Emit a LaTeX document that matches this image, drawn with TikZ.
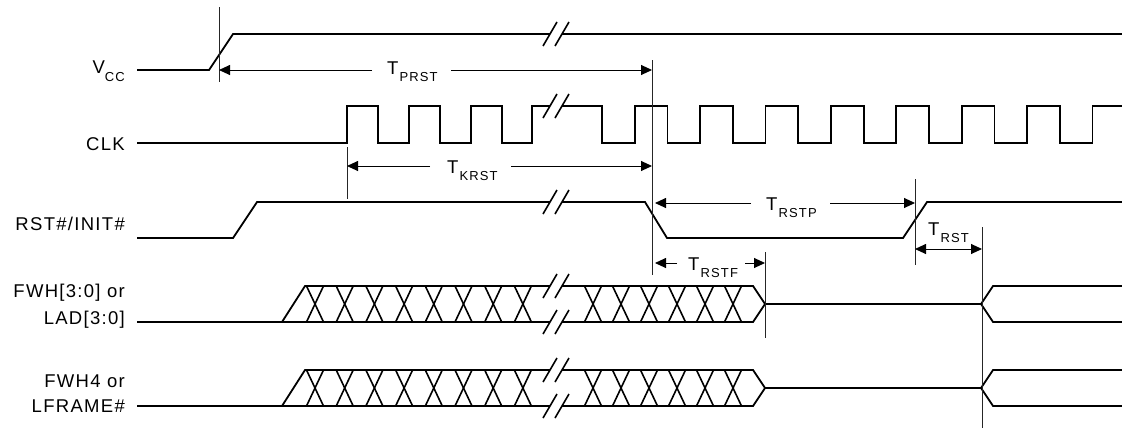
\documentclass[tikz,border=0pt]{standalone}
\usepackage{fontspec}
\setmainfont{Liberation Sans}
\newfontfamily\lblfam[LetterSpace=7]{Liberation Sans}
\newfontfamily\subfam[LetterSpace=9]{Liberation Sans}
\usetikzlibrary{arrows.meta}
\newcommand\lblfont{\lblfam\fontsize{18.5}{22}\selectfont}
\newcommand\subfont{\subfam\fontsize{13}{15}\selectfont}
\newcommand\Tlab[1]{T\hspace{1pt}\raisebox{-7pt}{\subfont #1}}
\tikzset{
  sig/.style={line width=1.8pt, line join=miter},
  dimline/.style={line width=0.9pt},
  dimarrow/.style={line width=0.9pt, -{Triangle[length=11pt,width=10pt]}},
  dimboth/.style={line width=0.9pt, {Triangle[length=11pt,width=10pt]}-{Triangle[length=11pt,width=10pt]}},
  refline/.style={line width=0.9pt, black!85},
  lbl/.style={anchor=base east, inner sep=0pt, font=\lblfont},
  tlbl/.style={anchor=base west, inner sep=0pt, font=\lblfont},
}
% break marks: #1 = y of line
\newcommand\brk[1]{%
  \fill[white] (543,#1+12) -- (557,#1-12) -- (569,#1-12) -- (555,#1+12) -- cycle;
  \draw[line width=1.6pt] (543,#1+12) -- (557,#1-12);
  \draw[line width=1.6pt] (555,#1+12) -- (569,#1-12);
}
% bus: #1 top, #2 bottom, #3 mid
\newcommand\bus[3]{%
  \draw[sig] (137,#2) -- (282,#2) -- (305,#1) -- (753,#1) -- (765,#3) -- (981,#3) -- (993,#1) -- (1122,#1);
  \draw[sig] (282,#2) -- (753,#2) -- (765,#3);
  \draw[sig] (981,#3) -- (993,#2) -- (1122,#2);
  \foreach \c in {315,344.7,374.4,404.1,433.8,463.5,493.2,522.9,593,621,649,677,705,733} {
    \draw[line width=1.6pt] (\c-8.5,#1) -- (\c+8.5,#2);
    \draw[line width=1.6pt] (\c-8.5,#2) -- (\c+8.5,#1);
  }
  \brk{#1}
  \brk{#2}
}
\begin{document}
\begin{tikzpicture}[x=1pt,y=-1pt]
\useasboundingbox (0,0) rectangle (1122,429);

% labels
\node[lbl] (lvcc) at (125,73) {V\raisebox{-8pt}{\subfont CC}};
\node[lbl] (lclk) at (125,150) {CLK};
\node[lbl] (lrst) at (125,230) {RST\#/INIT\#};
\node[lbl] (lfwh1) at (125,297) {FWH[3:0] or};
\node[lbl] (llad) at (125,324) {LAD[3:0]};
\node[lbl] (lfwh4) at (125,387) {FWH4 or};
\node[lbl] (lframe) at (125,412) {LFRAME\#};

% Vcc
\draw[sig] (137,70) -- (209,70) -- (233,34) -- (1122,34);
\brk{34}

% CLK
\draw[sig] (137,143) -- (347,143) -- (347,106) -- (378,106) -- (378,143)
  -- (409,143) -- (409,106) -- (440,106) -- (440,143)
  -- (471,143) -- (471,106) -- (502,106) -- (502,143)
  -- (532,143) -- (532,106) -- (602,106) -- (602,143)
  -- (634.7,143) -- (634.7,106) -- (667.4,106) -- (667.4,143)
  -- (700.1,143) -- (700.1,106) -- (732.8,106) -- (732.8,143)
  -- (765.5,143) -- (765.5,106) -- (798.2,106) -- (798.2,143)
  -- (830.9,143) -- (830.9,106) -- (863.6,106) -- (863.6,143)
  -- (896.3,143) -- (896.3,106) -- (929,106) -- (929,143)
  -- (961.7,143) -- (961.7,106) -- (994.4,106) -- (994.4,143)
  -- (1027.1,143) -- (1027.1,106) -- (1059.8,106) -- (1059.8,143)
  -- (1092.5,143) -- (1092.5,106) -- (1122,106);
\brk{106}

% RST#/INIT#
\draw[sig] (137,238) -- (233,238) -- (257,202) -- (645,202) -- (667,238) -- (903,238) -- (927,202) -- (1122,202);
\brk{202}

% buses
\bus{286}{322}{304}
\bus{370}{406}{388}

% reference lines
\coordinate (r1t) at (219,7);   \coordinate (r1b) at (219,82);
\coordinate (r2t) at (652,60);  \coordinate (r2b) at (652,275);
\coordinate (r3t) at (347,147); \coordinate (r3b) at (347,199);
\coordinate (r4t) at (915,179); \coordinate (r4b) at (915,265);
\coordinate (r5t) at (982,227); \coordinate (r5b) at (982,428);
\coordinate (r6t) at (765,252); \coordinate (r6b) at (765,338);
\foreach \i in {1,...,6} { \draw[refline] (r\i t) -- (r\i b); }

% T_PRST
\node[tlbl] (tprst) at (387,74) {\Tlab{PRST}};
\coordinate (prstL) at (219,70); \coordinate (prstR) at (652,70);
\draw[dimarrow] (372,70) -- (prstL);
\draw[dimarrow] (451,70) -- (prstR);

% T_KRST
\node[tlbl] (tkrst) at (447,173) {\Tlab{KRST}};
\coordinate (krstL) at (347,166); \coordinate (krstR) at (652,166);
\draw[dimarrow] (430,166) -- (krstL);
\draw[dimarrow] (511,166) -- (krstR);

% T_RSTP
\node[tlbl] (trstp) at (766,210) {\Tlab{RSTP}};
\coordinate (rstpL) at (655,203); \coordinate (rstpR) at (915,203);
\draw[dimarrow] (751,203) -- (rstpL);
\draw[dimarrow] (830,203) -- (rstpR);

% T_RSTF
\node[tlbl] (trstf) at (688,270) {\Tlab{RSTF}};
\coordinate (rstfL) at (655,263); \coordinate (rstfR) at (765,263);
\draw[dimarrow] (677,263) -- (rstfL);
\draw[dimarrow] (745,263) -- (rstfR);

% T_RST
\node[tlbl] (trst) at (928,235) {\Tlab{RST}};
\coordinate (rstL) at (915,249); \coordinate (rstR) at (982,249);
\draw[dimboth] (rstL) -- (rstR);
\end{tikzpicture}
\end{document}
